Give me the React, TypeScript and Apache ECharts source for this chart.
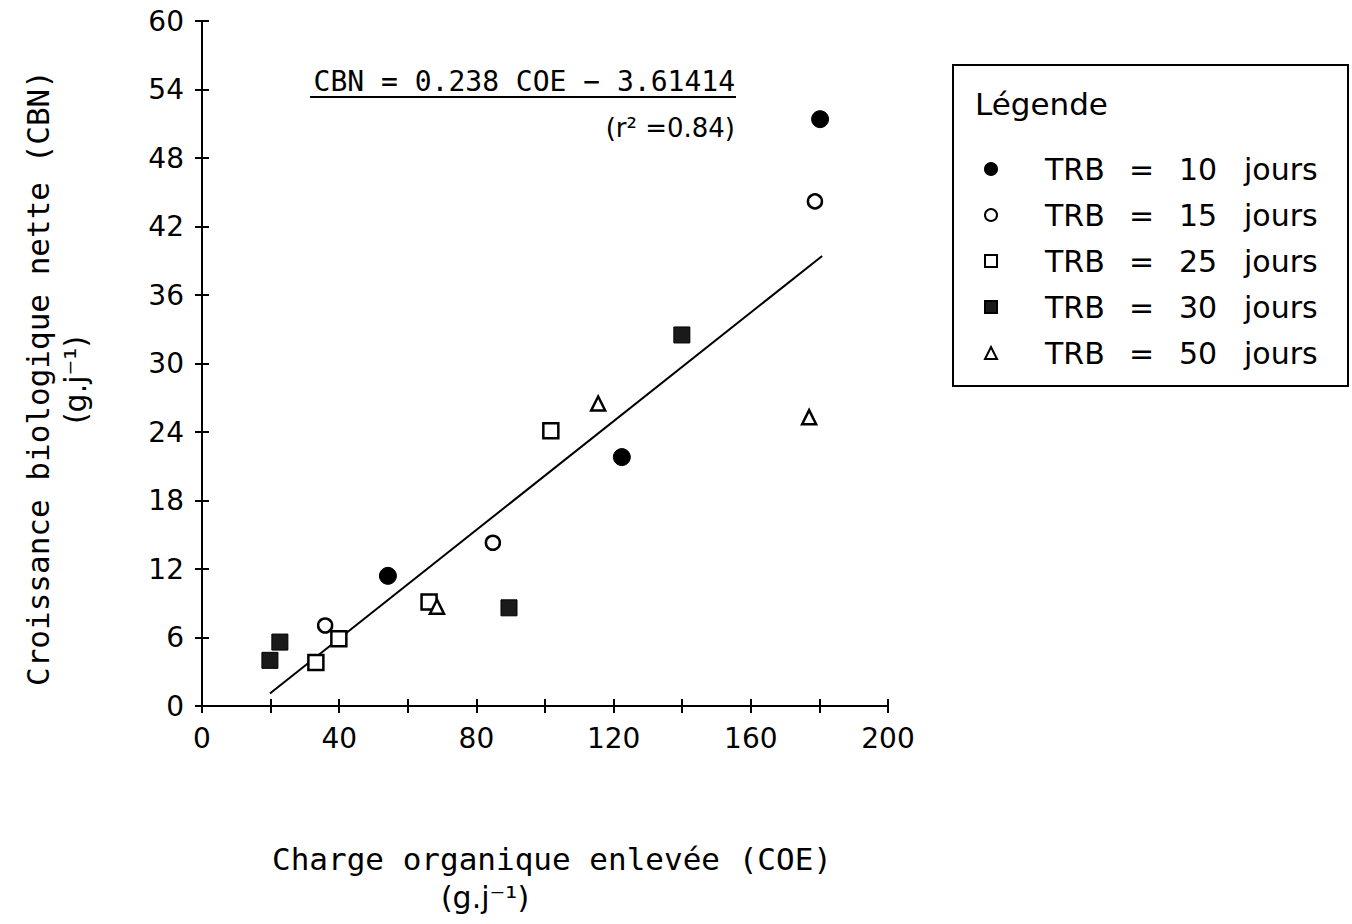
import React, { useEffect, useRef } from "react";
import * as echarts from "echarts";

// ---- data ----
const trb10: number[][] = [[54.2, 11.4], [122.4, 21.8], [180.2, 51.4]];
const trb15: number[][] = [[35.9, 7.05], [84.8, 14.3], [178.7, 44.2]];
const trb25: number[][] = [[33.2, 3.8], [39.9, 5.9], [66.2, 9.1], [101.7, 24.1]];
const trb30: number[][] = [[19.8, 4.0], [22.7, 5.6], [89.5, 8.6], [139.9, 32.5]];
const trb50: number[][] = [[68.5, 8.7], [115.5, 26.5], [177, 25.3]];

const seriesNames = ["TRB = 10 jours", "TRB = 15 jours", "TRB = 25 jours", "TRB = 30 jours", "TRB = 50 jours"];

// regression: CBN = 0.238 COE - 3.61414, drawn over the x-range of the fit
const slope = 0.238;
const intercept = -3.61414;
const fitRange = [19.8, 180.8];

const equationText = "CBN = 0.238 COE − 3.61414";
const r2Text = "(r² =0.84)";
const xName = "Charge organique enlevée (COE)";
const xUnit = "(g.j⁻¹)";
const yName = "Croissance biologique nette (CBN)";
const yUnit = "(g.j⁻¹)";
const legendTitle = "Légende";

const FONT = "DejaVu Sans";
const MONO = "DejaVu Sans Mono";

export default function App() {
  const ref = useRef<HTMLDivElement>(null);
  useEffect(() => {
    if (!ref.current) return;
    const chart = echarts.init(ref.current, undefined, { renderer: "svg" });
    const fitData = fitRange.map((x) => [x, slope * x + intercept]);
    const axisLine = { show: true, lineStyle: { color: "#000", width: 2 } };
    const tick = { show: true, length: 7, lineStyle: { color: "#000", width: 2 } };
    const grid = { left: 202, top: 21, width: 686, height: 685 };
    const legendRich = {
      p: { width: 43, fontSize: 30, fontFamily: FONT, color: "#000" },
      a: { width: 84, fontSize: 30, fontFamily: FONT, color: "#000" },
      b: { width: 50, fontSize: 30, fontFamily: FONT, color: "#000" },
      c: { width: 65, fontSize: 30, fontFamily: FONT, color: "#000" },
      d: { fontSize: 30, fontFamily: FONT, color: "#000" },
    };

    chart.setOption({
      animation: false,
      backgroundColor: "#fff",
      textStyle: { fontFamily: FONT, color: "#000" },
      grid,
      xAxis: [
        {
          type: "value",
          min: 0,
          max: 200,
          interval: 20,
          position: "bottom",
          axisLine,
          axisTick: tick,
          splitLine: { show: false },
          axisLabel: {
            color: "#000",
            fontSize: 28,
            fontFamily: FONT,
            margin: 18,
            formatter: (v: number) => (v % 40 === 0 ? String(v) : ""),
          },
          name: xName,
          nameLocation: "middle",
          nameGap: 137,
          nameTextStyle: { color: "#000", fontSize: 31, fontFamily: MONO, padding: [0, 0, 0, 14] },
        },
        {
          type: "value",
          min: 0,
          max: 200,
          interval: 20,
          position: "top",
          axisLine,
          axisTick: tick,
          splitLine: { show: false },
          axisLabel: { show: false },
        },
      ],
      yAxis: [
        {
          type: "value",
          min: 0,
          max: 60,
          interval: 6,
          position: "left",
          axisLine,
          axisTick: tick,
          splitLine: { show: false },
          axisLabel: { color: "#000", fontSize: 28, fontFamily: FONT, margin: 18 },
        },
        {
          type: "value",
          min: 0,
          max: 60,
          interval: 6,
          position: "right",
          axisLine,
          axisTick: tick,
          splitLine: { show: false },
          axisLabel: { show: false },
        },
      ],
      legend: {
        orient: "vertical",
        left: 984,
        top: 154,
        padding: 0,
        itemWidth: 12,
        itemHeight: 12,
        itemGap: 16,
        data: seriesNames,
        textStyle: { color: "#000", fontSize: 30, fontFamily: FONT, lineHeight: 30, rich: legendRich },
        formatter: (name: string) => {
          const parts = name.split(" ");
          return `{p| }{a|${parts[0]}}{b|${parts[1]}}{c|${parts[2]}}{d|${parts[3]}}`;
        },
      },
      graphic: [
        {
          type: "rect",
          shape: { x: 953, y: 65, width: 395, height: 321 },
          style: { fill: "none", stroke: "#000", lineWidth: 2 },
          silent: true,
        },
        {
          type: "text",
          x: 975,
          y: 104,
          style: { text: legendTitle, fill: "#000", fontSize: 31, fontFamily: FONT, verticalAlign: "middle" },
        },
        {
          type: "text",
          x: 735,
          y: 81,
          style: {
            text: equationText,
            fill: "#000",
            fontSize: 28,
            fontFamily: MONO,
            align: "right",
            verticalAlign: "middle",
          },
        },
        {
          type: "line",
          shape: { x1: 310, y1: 97, x2: 736, y2: 97 },
          style: { stroke: "#000", lineWidth: 2 },
        },
        {
          type: "text",
          x: 735,
          y: 128,
          style: {
            text: r2Text,
            fill: "#000",
            fontSize: 26,
            fontFamily: FONT,
            align: "right",
            verticalAlign: "middle",
          },
        },
        {
          type: "text",
          x: 485,
          y: 897,
          style: {
            text: xUnit,
            fill: "#000",
            fontSize: 30,
            fontFamily: FONT,
            align: "center",
            verticalAlign: "middle",
          },
        },
        {
          type: "text",
          x: 38,
          y: 378,
          rotation: Math.PI / 2,
          style: {
            text: yName,
            fill: "#000",
            fontSize: 31,
            fontFamily: MONO,
            align: "center",
            verticalAlign: "middle",
          },
        },
        {
          type: "text",
          x: 75,
          y: 380,
          rotation: Math.PI / 2,
          style: {
            text: yUnit,
            fill: "#000",
            fontSize: 30,
            fontFamily: FONT,
            align: "center",
            verticalAlign: "middle",
          },
        },
      ],
      series: [
        {
          name: "fit",
          type: "line",
          data: fitData,
          showSymbol: false,
          lineStyle: { color: "#000", width: 2 },
          z: 1,
          silent: true,
        },
        {
          name: seriesNames[0],
          type: "scatter",
          data: trb10,
          symbol: "circle",
          symbolSize: 17,
          itemStyle: { color: "#000", borderColor: "#000", borderWidth: 1, opacity: 1 },
          z: 3,
        },
        {
          name: seriesNames[1],
          type: "scatter",
          data: trb15,
          symbol: "circle",
          symbolSize: 14,
          itemStyle: { color: "#fff", borderColor: "#000", borderWidth: 2.5, opacity: 1 },
          z: 3,
        },
        {
          name: seriesNames[2],
          type: "scatter",
          data: trb25,
          symbol: "rect",
          symbolSize: 15,
          itemStyle: { color: "#fff", borderColor: "#000", borderWidth: 2.5, opacity: 1 },
          z: 3,
        },
        {
          name: seriesNames[3],
          type: "scatter",
          data: trb30,
          symbol: "rect",
          symbolSize: 16,
          itemStyle: { color: "#1a1a1a", borderColor: "#000", borderWidth: 1, opacity: 1 },
          z: 3,
        },
        {
          name: seriesNames[4],
          type: "scatter",
          data: trb50,
          symbol: "triangle",
          symbolSize: 14,
          itemStyle: { color: "#fff", borderColor: "#000", borderWidth: 2.5, opacity: 1 },
          z: 3,
        },
      ],
    });
    return () => chart.dispose();
  }, []);
  return <div ref={ref} style={{ position: "fixed", left: 0, top: 0, width: 1352, height: 924 }} />;
}
